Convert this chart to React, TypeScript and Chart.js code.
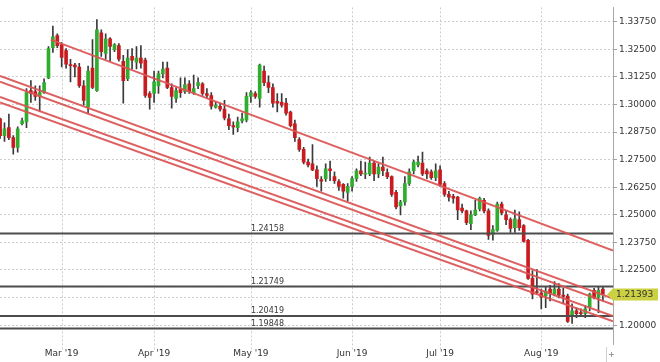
import React, { useEffect, useRef } from "react";
import { Chart, registerables } from "chart.js";

Chart.register(...registerables);

// Daily GBP/USD candles, trading-day index 0 = 11 Feb 2019 ... 137 = 21 Aug 2019
const opens = [
  1.2935, 1.2859, 1.2895, 1.2850, 1.2806, 1.2913, 1.2921, 1.3063, 1.3059, 1.3037,
  1.3054, 1.3121, 1.3258, 1.3312, 1.3272, 1.3245, 1.3179, 1.3179, 1.3170, 1.3085,
  1.2988, 1.3165, 1.3063, 1.3325, 1.3232, 1.3298, 1.3249, 1.3267, 1.3196, 1.3117,
  1.3218, 1.3192, 1.3210, 1.3201, 1.3050, 1.3050, 1.3085, 1.3139, 1.3165, 1.3077,
  1.3028, 1.3068, 1.3059, 1.3094, 1.3054, 1.3085, 1.3094, 1.3050, 1.3041, 1.2988,
  1.2992, 1.2979, 1.2935, 1.2904, 1.2895, 1.2926, 1.2930, 1.3037, 1.3050, 1.3028,
  1.3152, 1.3099, 1.3077, 1.3015, 1.3010, 1.3006, 1.2966, 1.2913, 1.2841, 1.2797,
  1.2739, 1.2731, 1.2704, 1.2660, 1.2664, 1.2708, 1.2673, 1.2651, 1.2638, 1.2602,
  1.2629, 1.2664, 1.2700, 1.2684, 1.2686, 1.2735, 1.2686, 1.2717, 1.2691, 1.2673,
  1.2602, 1.2540, 1.2558, 1.2642, 1.2700, 1.2726, 1.2735, 1.2700, 1.2695, 1.2669,
  1.2704, 1.2642, 1.2593, 1.2584, 1.2580, 1.2531, 1.2518, 1.2460, 1.2500, 1.2527,
  1.2566, 1.2518, 1.2411, 1.2429, 1.2549, 1.2500, 1.2478, 1.2442, 1.2478, 1.2451,
  1.2385, 1.2212, 1.2150, 1.2145, 1.2132, 1.2163, 1.2141, 1.2163, 1.2136, 1.2132,
  1.2039, 1.2065, 1.2054, 1.2052, 1.2083, 1.2158, 1.2127, 1.2163,
];
const highs = [
  1.2939, 1.2917, 1.2957, 1.2859, 1.2899, 1.2939, 1.3072, 1.3108, 1.3085, 1.3085,
  1.3117, 1.3263, 1.3356, 1.3320, 1.3281, 1.3254, 1.3205, 1.3187, 1.3187, 1.3108,
  1.3174, 1.3294, 1.3385, 1.3338, 1.3320, 1.3303, 1.3276, 1.3276, 1.3223, 1.3249,
  1.3254, 1.3263, 1.3267, 1.3210, 1.3059, 1.3152, 1.3152, 1.3192, 1.3192, 1.3094,
  1.3077, 1.3121, 1.3121, 1.3108, 1.3134, 1.3121, 1.3099, 1.3072, 1.3054, 1.3010,
  1.3006, 1.3019, 1.2957, 1.2921, 1.2943, 1.2961, 1.3054, 1.3063, 1.3059, 1.3183,
  1.3174, 1.3130, 1.3094, 1.3050, 1.3050, 1.3028, 1.2970, 1.2930, 1.2850, 1.2806,
  1.2753, 1.2819, 1.2722, 1.2673, 1.2731, 1.2744, 1.2695, 1.2660, 1.2642, 1.2642,
  1.2673, 1.2708, 1.2744, 1.2739, 1.2762, 1.2744, 1.2731, 1.2762, 1.2708, 1.2677,
  1.2611, 1.2566, 1.2673, 1.2708, 1.2748, 1.2766, 1.2784, 1.2708, 1.2704, 1.2731,
  1.2722, 1.2651, 1.2607, 1.2593, 1.2584, 1.2549, 1.2522, 1.2518, 1.2566, 1.2580,
  1.2575, 1.2527, 1.2451, 1.2558, 1.2558, 1.2518, 1.2487, 1.2522, 1.2514, 1.2456,
  1.2389, 1.2247, 1.2252, 1.2163, 1.2176, 1.2181, 1.2198, 1.2189, 1.2167, 1.2141,
  1.2097, 1.2079, 1.2074, 1.2088, 1.2145, 1.2167, 1.2176, 1.2172,
];
const lows = [
  1.2846, 1.2833, 1.2841, 1.2775, 1.2784, 1.2908, 1.2895, 1.3010, 1.3019, 1.2970,
  1.3050, 1.3117, 1.3236, 1.3258, 1.3170, 1.3165, 1.3103, 1.3125, 1.3077, 1.2997,
  1.2961, 1.3072, 1.3059, 1.3218, 1.3205, 1.3196, 1.3240, 1.3196, 1.3006, 1.3108,
  1.3161, 1.3161, 1.3165, 1.3032, 1.2979, 1.3010, 1.3050, 1.3121, 1.3072, 1.2983,
  1.3010, 1.3032, 1.3050, 1.3050, 1.3046, 1.3072, 1.3041, 1.3028, 1.2979, 1.2983,
  1.2970, 1.2930, 1.2886, 1.2864, 1.2877, 1.2917, 1.2921, 1.3010, 1.3028, 1.2988,
  1.3085, 1.3054, 1.2988, 1.2966, 1.2988, 1.2952, 1.2899, 1.2833, 1.2788, 1.2731,
  1.2717, 1.2700, 1.2629, 1.2607, 1.2651, 1.2655, 1.2642, 1.2611, 1.2575, 1.2562,
  1.2607, 1.2651, 1.2677, 1.2664, 1.2677, 1.2655, 1.2669, 1.2677, 1.2664, 1.2584,
  1.2527, 1.2500, 1.2544, 1.2633, 1.2686, 1.2717, 1.2677, 1.2664, 1.2660, 1.2655,
  1.2629, 1.2584, 1.2562, 1.2553, 1.2478, 1.2509, 1.2456, 1.2433, 1.2496, 1.2518,
  1.2509, 1.2389, 1.2385, 1.2425, 1.2500, 1.2456, 1.2420, 1.2420, 1.2429, 1.2376,
  1.2207, 1.2119, 1.2141, 1.2074, 1.2079, 1.2110, 1.2132, 1.2123, 1.2097, 1.2012,
  1.2008, 1.2034, 1.2039, 1.2034, 1.2065, 1.2119, 1.2057, 1.2110,
];
const closes = [
  1.2859, 1.2890, 1.2850, 1.2806, 1.2890, 1.2926, 1.3054, 1.3050, 1.3037, 1.3054,
  1.3099, 1.3254, 1.3307, 1.3267, 1.3214, 1.3183, 1.3176, 1.3170, 1.3085, 1.3019,
  1.3152, 1.3077, 1.3338, 1.3240, 1.3298, 1.3263, 1.3272, 1.3205, 1.3108, 1.3210,
  1.3201, 1.3210, 1.3187, 1.3041, 1.3032, 1.3103, 1.3139, 1.3161, 1.3077, 1.3037,
  1.3063, 1.3054, 1.3090, 1.3059, 1.3072, 1.3099, 1.3050, 1.3041, 1.2992, 1.2997,
  1.2979, 1.2939, 1.2904, 1.2899, 1.2921, 1.2935, 1.3037, 1.3054, 1.3037, 1.3179,
  1.3099, 1.3077, 1.3006, 1.3006, 1.2997, 1.2961, 1.2904, 1.2850, 1.2797, 1.2739,
  1.2726, 1.2704, 1.2664, 1.2653, 1.2708, 1.2700, 1.2655, 1.2629, 1.2607, 1.2629,
  1.2664, 1.2700, 1.2686, 1.2688, 1.2735, 1.2686, 1.2717, 1.2700, 1.2673, 1.2593,
  1.2536, 1.2558, 1.2642, 1.2695, 1.2739, 1.2739, 1.2686, 1.2686, 1.2669, 1.2700,
  1.2638, 1.2593, 1.2580, 1.2575, 1.2522, 1.2518, 1.2465, 1.2500, 1.2522, 1.2575,
  1.2518, 1.2407, 1.2433, 1.2549, 1.2509, 1.2478, 1.2438, 1.2482, 1.2442, 1.2380,
  1.2212, 1.2141, 1.2148, 1.2127, 1.2154, 1.2145, 1.2163, 1.2136, 1.2130, 1.2017,
  1.2065, 1.2052, 1.2052, 1.2074, 1.2141, 1.2123, 1.2158, 1.2139,
];

// x axis: month starts (trading-day index) and labels
const monthTickIdx = [14, 35, 57, 80, 100, 123];
const monthLabels = ["Mar '19", "Apr '19", "May '19", "Jun '19", "Jul '19", "Aug '19"];

// y axis ticks
const yTickValues = [
  1.2, 1.2125, 1.225, 1.2375, 1.25, 1.2625, 1.275, 1.2875, 1.3, 1.3125, 1.325, 1.3375,
];

const xMin = -0.02;
const xMax = 139.3;
const yMin = 1.19146;
const yMax = 1.34402;

// trend lines: [startIdx, startPrice, endIdx, endPrice]
const trendUpper = [11.5, 1.3294, 139.3, 1.2338];
const trendA1 = [-0.02, 1.313, 139.3, 1.212];
const trendA2 = [-0.02, 1.3103, 139.3, 1.2093];
const trendB1 = [-0.02, 1.3034, 139.3, 1.2041];
const trendB2 = [-0.02, 1.3009, 139.3, 1.2017];

// horizontal levels
const levels = [1.24158, 1.21749, 1.20419, 1.19848];
const levelLabelIdx = 57;
const lastPrice = 1.21393;

const GREEN = "#2fad2f";
const RED = "#c81b1f";
const WICK = "#3a3a3a";
const TREND = "rgba(218, 84, 84, 0.92)";
const LEVEL = "#4d4d4d";
const GRID = "#cdcdcd";
const FONT = "'DejaVu Sans', Verdana, sans-serif";

const seg = (t: number[]) => [
  { x: t[0], y: t[1] },
  { x: t[2], y: t[3] },
];

const monthGridPlugin = {
  id: "monthGrid",
  beforeDatasetsDraw(chart: any) {
    const { ctx, chartArea } = chart;
    const x = chart.scales.x;
    ctx.save();
    ctx.strokeStyle = GRID;
    ctx.lineWidth = 1;
    ctx.setLineDash([2, 2]);
    monthTickIdx.forEach((v) => {
      const px = Math.round(x.getPixelForValue(v)) + 0.5;
      ctx.beginPath();
      ctx.moveTo(px, chartArea.top);
      ctx.lineTo(px, chartArea.bottom + 6);
      ctx.stroke();
    });
    ctx.restore();
  },
};

const overlayPlugin = {
  id: "overlay",
  afterDraw(chart: any) {
    const { ctx, chartArea } = chart;
    const x = chart.scales.x;
    const y = chart.scales.y;
    ctx.save();
    // level labels
    ctx.font = `8px ${FONT}`;
    ctx.fillStyle = "#3a3a3a";
    ctx.textAlign = "left";
    ctx.textBaseline = "alphabetic";
    const lx = x.getPixelForValue(levelLabelIdx);
    levels.forEach((v) => {
      ctx.fillText(v.toFixed(5), lx, y.getPixelForValue(v) - 2.5);
    });
    // last price tag
    const py = Math.round(y.getPixelForValue(lastPrice)) + 0.5;
    const left = chartArea.right;
    ctx.fillStyle = "#cbd142";
    ctx.beginPath();
    ctx.moveTo(left - 6, py);
    ctx.lineTo(left, py - 6);
    ctx.lineTo(left + 45, py - 6);
    ctx.lineTo(left + 45, py + 6);
    ctx.lineTo(left, py + 6);
    ctx.closePath();
    ctx.fill();
    ctx.fillStyle = "#333";
    ctx.font = `9px ${FONT}`;
    ctx.textBaseline = "middle";
    ctx.fillText(lastPrice.toFixed(5), left + 3, py + 0.5);
    // small corner marks
    ctx.strokeStyle = "#cfcfcf";
    ctx.lineWidth = 1;
    ctx.beginPath();
    ctx.moveTo(606.5, 347);
    ctx.lineTo(606.5, 362);
    ctx.stroke();
    ctx.strokeStyle = "#9a9a9a";
    ctx.beginPath();
    ctx.moveTo(609, 354.5);
    ctx.lineTo(614, 354.5);
    ctx.moveTo(611.5, 352);
    ctx.lineTo(611.5, 357);
    ctx.stroke();
    ctx.restore();
  },
};

export default function App() {
  const ref = useRef<HTMLCanvasElement | null>(null);

  useEffect(() => {
    if (!ref.current) return;
    const bodies = opens.map((o, i) => ({
      x: i,
      y: [Math.min(o, closes[i]), Math.max(o, closes[i])],
    }));
    const wicks = opens.map((_, i) => ({ x: i, y: [lows[i], highs[i]] }));
    const bodyColors = opens.map((o, i) => (closes[i] >= o ? GREEN : RED));

    const lineDs = (data: any[], color: string, width: number, dash: number[] = []) => ({
      type: "line" as const,
      data,
      borderColor: color,
      borderWidth: width,
      borderDash: dash,
      pointRadius: 0,
      fill: false,
      tension: 0,
      order: 0,
    });

    const levelDs = levels.map((v) =>
      lineDs(
        [
          { x: xMin, y: v },
          { x: xMax, y: v },
        ],
        LEVEL,
        2
      )
    );
    const dashedOverlay = lineDs(
      [
        { x: xMin, y: levels[1] },
        { x: xMax, y: levels[1] },
      ],
      "#b0b0b0",
      1,
      [3, 3]
    );

    const chart = new Chart(ref.current, {
      type: "bar",
      data: {
        datasets: [
          {
            type: "bar",
            data: bodies as any,
            backgroundColor: bodyColors,
            borderWidth: 0,
            barThickness: 3,
            minBarLength: 1,
            grouped: false,
            order: 2,
          } as any,
          {
            type: "bar",
            data: wicks as any,
            backgroundColor: WICK,
            borderWidth: 0,
            barThickness: 1,
            grouped: false,
            order: 3,
          } as any,
          lineDs(seg(trendUpper), TREND, 2),
          lineDs(seg(trendA1), TREND, 2),
          lineDs(seg(trendA2), TREND, 2),
          lineDs(seg(trendB1), TREND, 2),
          lineDs(seg(trendB2), TREND, 2),
          ...levelDs,
          dashedOverlay,
        ] as any,
      },
      options: {
        animation: false,
        responsive: false,
        maintainAspectRatio: false,
        devicePixelRatio: 1,
        layout: { padding: 0 },
        plugins: {
          legend: { display: false },
          tooltip: { enabled: false },
        },
        scales: {
          x: {
            type: "linear",
            min: xMin,
            max: xMax,
            offset: false,
            afterBuildTicks: (s: any) => {
              s.ticks = monthTickIdx.map((v) => ({ value: v }));
            },
            afterFit: (s: any) => {
              s.height = 18;
            },
            grid: { display: false, drawTicks: false },
            border: { display: false },
            ticks: {
              autoSkip: false,
              maxRotation: 0,
              minRotation: 0,
              padding: 4,
              color: "#333",
              font: { family: FONT, size: 9 },
              callback: (_v: any, i: number) => monthLabels[i],
            },
          },
          y: {
            type: "linear",
            position: "right",
            min: yMin,
            max: yMax,
            afterBuildTicks: (s: any) => {
              s.ticks = yTickValues.map((v) => ({ value: v }));
            },
            afterFit: (s: any) => {
              s.width = 47;
            },
            grid: {
              color: GRID,
              lineWidth: 1,
              drawTicks: true,
              tickLength: 4,
              tickColor: "#a0a0a0",
            },
            border: { display: true, color: "#a8a8a8", width: 1, dash: [2, 2] },
            ticks: {
              padding: 2,
              color: "#333",
              font: { family: FONT, size: 9 },
              callback: (v: any) => Number(v).toFixed(5),
            },
          },
        },
      } as any,
      plugins: [monthGridPlugin, overlayPlugin],
    });
    return () => chart.destroy();
  }, []);

  return (
    <div style={{ position: "fixed", left: 0, top: 0, width: 660, height: 362, background: "#fff" }}>
      <canvas ref={ref} width={660} height={362} style={{ display: "block", width: 660, height: 362 }} />
    </div>
  );
}
